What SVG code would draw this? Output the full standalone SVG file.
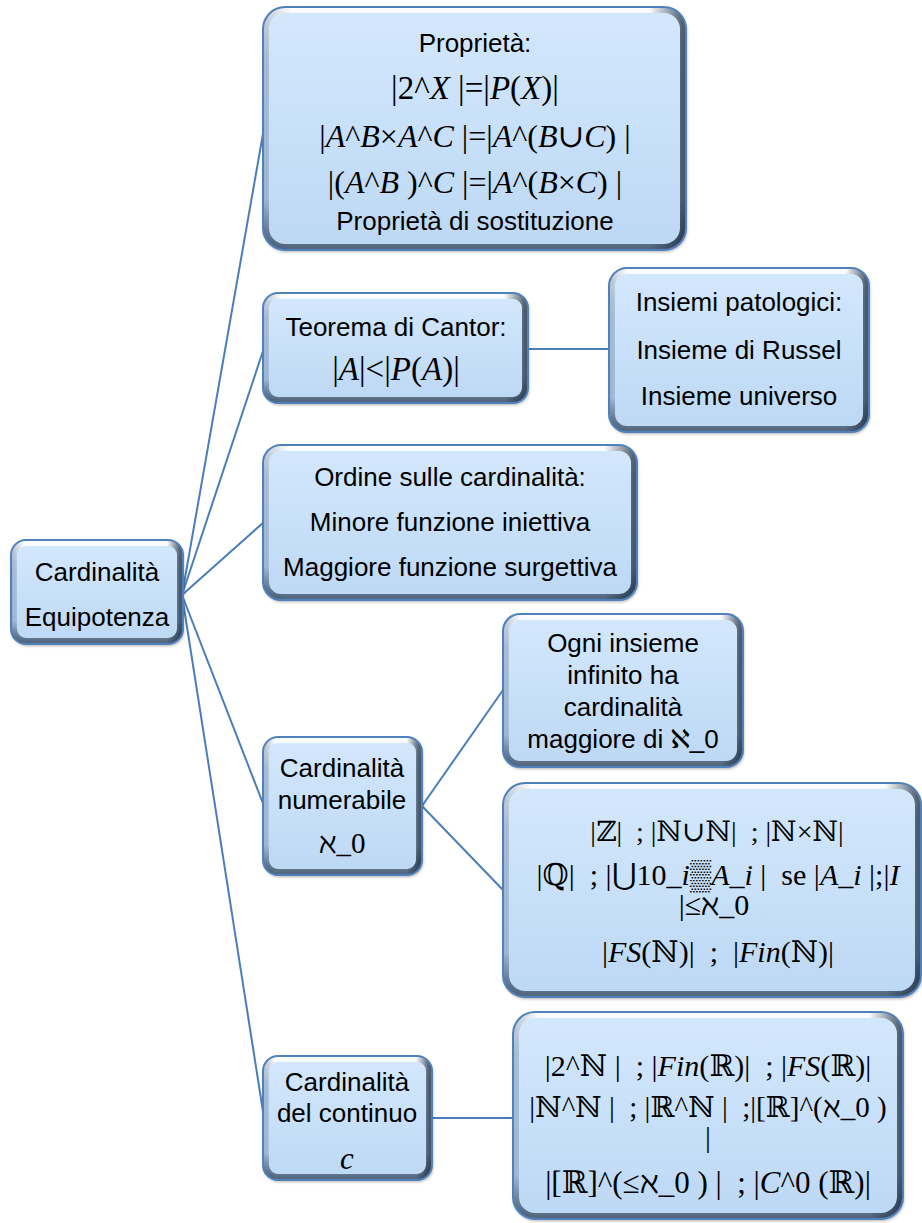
<svg xmlns="http://www.w3.org/2000/svg" width="922" height="1223" viewBox="0 0 922 1223">
<defs>
<linearGradient id="gFill" x1="0" y1="0" x2="0" y2="1">
<stop offset="0" stop-color="#d4e8fc"/>
<stop offset="0.5" stop-color="#c8e0f9"/>
<stop offset="1" stop-color="#bdd8f4"/>
</linearGradient>
<linearGradient id="gV" x1="0" y1="0" x2="0" y2="1">
<stop offset="0" stop-color="#ffffff" stop-opacity="0.9"/>
<stop offset="0.2" stop-color="#ffffff" stop-opacity="0"/>
<stop offset="0.8" stop-color="#1c2c40" stop-opacity="0"/>
<stop offset="1" stop-color="#1c2c40" stop-opacity="0.65"/>
</linearGradient>
<linearGradient id="gH" x1="0" y1="0" x2="1" y2="0">
<stop offset="0" stop-color="#2a4060" stop-opacity="0.25"/>
<stop offset="0.06" stop-color="#2a4060" stop-opacity="0"/>
<stop offset="0.92" stop-color="#1c2c40" stop-opacity="0"/>
<stop offset="1" stop-color="#1c2c40" stop-opacity="0.75"/>
</linearGradient>
<filter id="sh" x="-10%" y="-10%" width="120%" height="120%">
<feDropShadow dx="1" dy="2" stdDeviation="1.5" flood-color="#000" flood-opacity="0.3"/>
</filter>
</defs>
<style>
.bg{fill:url(#gFill);filter:url(#sh)}
.bv{fill:none;stroke:url(#gV);stroke-width:6}
.bh{fill:none;stroke:url(#gH);stroke-width:6}
.bd{fill:none;stroke:#4f81bd;stroke-width:2}
.t{font-family:"Liberation Sans",Arial,"DejaVu Sans",sans-serif;font-size:26px;fill:#000;text-anchor:middle;dominant-baseline:central}
.m{font-family:"Liberation Serif","DejaVu Serif",serif;font-size:29px;fill:#000;text-anchor:middle;dominant-baseline:central}
.i{font-style:italic}
.s28{font-size:28px}
.s30{font-size:30px}
.s31{font-size:31px}
.s32{font-size:32px}
.s33{font-size:33px}
.conn line{stroke:#4a7ebb;stroke-width:2}
</style>
<rect width="922" height="1223" fill="#ffffff"/>
<g id="connectors" class="conn">
<line x1="182" y1="595" x2="264" y2="128"/>
<line x1="182" y1="595" x2="264" y2="348"/>
<line x1="182" y1="595" x2="264" y2="522"/>
<line x1="182" y1="595" x2="264" y2="806"/>
<line x1="182" y1="595" x2="264" y2="1118"/>
<line x1="528" y1="349" x2="609" y2="349"/>
<line x1="422" y1="806" x2="503" y2="690"/>
<line x1="422" y1="806" x2="503" y2="890"/>
<line x1="432" y1="1118" x2="513" y2="1118"/>
</g>
<g id="root">
<rect class="bg" x="11" y="540" width="172" height="104" rx="15"/>
<rect class="bv" x="14" y="543" width="166" height="98" rx="12"/>
<rect class="bh" x="14" y="543" width="166" height="98" rx="12"/>
<rect class="bd" x="11" y="540" width="172" height="104" rx="15"/>
<text class="t" x="97" y="572">Cardinalità</text>
<text class="t" x="97" y="617">Equipotenza</text>
</g>
<g id="proprieta">
<rect class="bg" x="263" y="7" width="423" height="243" rx="22"/>
<rect class="bv" x="266" y="10" width="417" height="237" rx="19"/>
<rect class="bh" x="266" y="10" width="417" height="237" rx="19"/>
<rect class="bd" x="263" y="7" width="423" height="243" rx="22"/>
<text class="t" x="475" y="43">Proprietà:</text>
<text class="m s33" x="475" y="88" xml:space="preserve">|2^<tspan class="i">X</tspan> |=|<tspan class="i">P</tspan>(<tspan class="i">X</tspan>)|</text>
<text class="m s32" x="475" y="136" xml:space="preserve">|<tspan class="i">A</tspan>^<tspan class="i">B</tspan>×<tspan class="i">A</tspan>^<tspan class="i">C</tspan> |=|<tspan class="i">A</tspan>^(<tspan class="i">B</tspan>∪<tspan class="i">C</tspan>) |</text>
<text class="m s32" x="475" y="182" xml:space="preserve">|(<tspan class="i">A</tspan>^<tspan class="i">B</tspan> )^<tspan class="i">C</tspan> |=|<tspan class="i">A</tspan>^(<tspan class="i">B</tspan>×<tspan class="i">C</tspan>) |</text>
<text class="t" x="475" y="221">Proprietà di sostituzione</text>
</g>
<g id="cantor">
<rect class="bg" x="263" y="293" width="265" height="110" rx="15"/>
<rect class="bv" x="266" y="296" width="259" height="104" rx="12"/>
<rect class="bh" x="266" y="296" width="259" height="104" rx="12"/>
<rect class="bd" x="263" y="293" width="265" height="110" rx="15"/>
<text class="t" x="396" y="327">Teorema di Cantor:</text>
<text class="m s33" x="396" y="369">|<tspan class="i">A</tspan>|&lt;|<tspan class="i">P</tspan>(<tspan class="i">A</tspan>)|</text>
</g>
<g id="patologici">
<rect class="bg" x="609" y="268" width="260" height="164" rx="18"/>
<rect class="bv" x="612" y="271" width="254" height="158" rx="15"/>
<rect class="bh" x="612" y="271" width="254" height="158" rx="15"/>
<rect class="bd" x="609" y="268" width="260" height="164" rx="18"/>
<text class="t" x="739" y="302">Insiemi patologici:</text>
<text class="t" x="739" y="350">Insieme di Russel</text>
<text class="t" x="739" y="396">Insieme universo</text>
</g>
<g id="ordine">
<rect class="bg" x="263" y="445" width="374" height="155" rx="18"/>
<rect class="bv" x="266" y="448" width="368" height="149" rx="15"/>
<rect class="bh" x="266" y="448" width="368" height="149" rx="15"/>
<rect class="bd" x="263" y="445" width="374" height="155" rx="18"/>
<text class="t" x="450" y="477">Ordine sulle cardinalità:</text>
<text class="t" x="450" y="522">Minore funzione iniettiva</text>
<text class="t" x="450" y="567">Maggiore funzione surgettiva</text>
</g>
<g id="numerabile">
<rect class="bg" x="263" y="737" width="159" height="138" rx="15"/>
<rect class="bv" x="266" y="740" width="153" height="132" rx="12"/>
<rect class="bh" x="266" y="740" width="153" height="132" rx="12"/>
<rect class="bd" x="263" y="737" width="159" height="138" rx="15"/>
<text class="t" x="342" y="768">Cardinalità</text>
<text class="t" x="342" y="800">numerabile</text>
<text class="m" x="342" y="843">ℵ_0</text>
</g>
<g id="ogni">
<rect class="bg" x="503" y="614" width="240" height="153" rx="17"/>
<rect class="bv" x="506" y="617" width="234" height="147" rx="14"/>
<rect class="bh" x="506" y="617" width="234" height="147" rx="14"/>
<rect class="bd" x="503" y="614" width="240" height="153" rx="17"/>
<text class="t" x="623" y="643">Ogni insieme</text>
<text class="t" x="623" y="675">infinito ha</text>
<text class="t" x="623" y="707">cardinalità</text>
<text class="t" x="623" y="739">maggiore di ℵ_0</text>
</g>
<g id="numerabili-esempi">
<rect class="bg" x="503" y="783" width="418" height="214" rx="22"/>
<rect class="bv" x="506" y="786" width="412" height="208" rx="19"/>
<rect class="bh" x="506" y="786" width="412" height="208" rx="19"/>
<rect class="bd" x="503" y="783" width="418" height="214" rx="22"/>
<text class="m s28" x="717" y="831" xml:space="preserve">|ℤ|  ; |ℕ∪ℕ|  ; |ℕ×ℕ|</text>
<text class="m s30" x="718" y="874" xml:space="preserve">|ℚ|  ; |⋃10_<tspan class="i">i</tspan>▒<tspan class="i">A</tspan>_<tspan class="i">i</tspan> |  se |<tspan class="i">A</tspan>_<tspan class="i">i</tspan> |;|<tspan class="i">I</tspan></text>
<text class="m s30" x="714" y="904">|≤ℵ_0</text>
<text class="m s30" x="718" y="951" xml:space="preserve">|<tspan class="i">FS</tspan>(ℕ)|  ;  |<tspan class="i">Fin</tspan>(ℕ)|</text>
</g>
<g id="continuo">
<rect class="bg" x="263" y="1056" width="169" height="124" rx="15"/>
<rect class="bv" x="266" y="1059" width="163" height="118" rx="12"/>
<rect class="bh" x="266" y="1059" width="163" height="118" rx="12"/>
<rect class="bd" x="263" y="1056" width="169" height="124" rx="15"/>
<text class="t" x="347" y="1082">Cardinalità</text>
<text class="t" x="347" y="1113">del continuo</text>
<text class="m i s31" x="347" y="1158">c</text>
</g>
<g id="continuo-esempi">
<rect class="bg" x="513" y="1012" width="390" height="207" rx="22"/>
<rect class="bv" x="516" y="1015" width="384" height="201" rx="19"/>
<rect class="bh" x="516" y="1015" width="384" height="201" rx="19"/>
<rect class="bd" x="513" y="1012" width="390" height="207" rx="22"/>
<text class="m s30" x="708" y="1065" xml:space="preserve">|2^ℕ |  ; |<tspan class="i">Fin</tspan>(ℝ)|  ; |<tspan class="i">FS</tspan>(ℝ)|</text>
<text class="m" x="708" y="1107" xml:space="preserve">|ℕ^ℕ |  ; |ℝ^ℕ |  ;|[ℝ]^(ℵ_0 )</text>
<text class="m" x="708" y="1137">|</text>
<text class="m s31" x="708" y="1182" xml:space="preserve">|[ℝ]^(≤ℵ_0 ) |  ; |<tspan class="i">C</tspan>^0 (ℝ)|</text>
</g>
</svg>
